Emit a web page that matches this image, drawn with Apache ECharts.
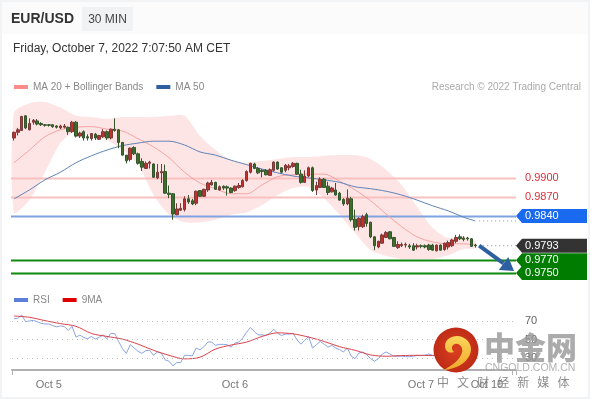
<!DOCTYPE html>
<html><head><meta charset="utf-8">
<style>html,body{margin:0;padding:0;background:#fff}#c{width:590px;height:400px}</style>
<script src="https://cdn.jsdelivr.net/npm/echarts@6/dist/echarts.min.js"></script>
</head><body><div id="c"></div>
<script>
const FONT = '"Liberation Sans", Arial, sans-serif';
const tickIndex = [9, 57, 105, 122];
const tickLabels = ['Oct 5', 'Oct 6', 'Oct 7', 'Oct 10'];
const slotCount = 130;
// [open, close, low, high], one per 30-minute candle
const candles = [
[0.9963,0.9972,0.9959,0.9973],[0.9972,0.9976,0.9967,0.9979],[0.9975,0.9997,0.9974,0.9998],[0.9998,0.9979,0.9977,0.9999],
[0.9976,0.9986,0.9975,0.9994],[0.9988,0.9991,0.9984,0.9993],[0.9990,0.9985,0.9983,0.9993],[0.9986,0.9984,0.9982,0.9988],
[0.9984,0.9983,0.9981,0.9985],[0.9984,0.9983,0.9981,0.9985],[0.9984,0.9981,0.9979,0.9985],[0.9982,0.9980,0.9978,0.9983],
[0.9979,0.9982,0.9977,0.9984],[0.9980,0.9982,0.9978,0.9985],[0.9980,0.9973,0.9968,0.9981],[0.9973,0.9988,0.9971,0.9990],
[0.9988,0.9966,0.9964,0.9990],[0.9966,0.9971,0.9963,0.9973],[0.9973,0.9963,0.9959,0.9975],[0.9965,0.9963,0.9959,0.9969],
[0.9962,0.9970,0.9959,0.9971],[0.9969,0.9963,0.9960,0.9971],[0.9961,0.9967,0.9960,0.9968],[0.9965,0.9973,0.9963,0.9977],
[0.9973,0.9963,0.9960,0.9975],[0.9963,0.9977,0.9961,0.9978],[0.9977,0.9975,0.9973,0.9994],[0.9976,0.9956,0.9947,0.9977],
[0.9956,0.9936,0.9935,0.9957],[0.9936,0.9927,0.9923,0.9936],[0.9929,0.9947,0.9926,0.9948],[0.9948,0.9938,0.9936,0.9950],
[0.9938,0.9923,0.9921,0.9940],[0.9926,0.9917,0.9911,0.9931],[0.9915,0.9923,0.9914,0.9926],[0.9923,0.9925,0.9915,0.9927],
[0.9922,0.9901,0.9900,0.9923],[0.9900,0.9909,0.9898,0.9922],[0.9908,0.9910,0.9892,0.9922],[0.9910,0.9876,0.9875,0.9921],
[0.9876,0.9874,0.9868,0.9888],[0.9875,0.9843,0.9834,0.9876],[0.9842,0.9851,0.9841,0.9860],[0.9849,0.9852,0.9848,0.9860],
[0.9850,0.9867,0.9847,0.9871],[0.9867,0.9862,0.9859,0.9873],[0.9864,0.9859,0.9857,0.9867],[0.9860,0.9879,0.9857,0.9880],
[0.9880,0.9871,0.9870,0.9881],[0.9871,0.9882,0.9870,0.9883],[0.9881,0.9892,0.9878,0.9894],[0.9889,0.9893,0.9888,0.9897],
[0.9893,0.9882,0.9881,0.9894],[0.9881,0.9886,0.9880,0.9888],[0.9887,0.9884,0.9881,0.9888],[0.9886,0.9884,0.9872,0.9888],
[0.9884,0.9877,0.9876,0.9885],[0.9880,0.9887,0.9878,0.9888],[0.9885,0.9888,0.9883,0.9892],[0.9886,0.9896,0.9885,0.9898],
[0.9896,0.9910,0.9894,0.9912],[0.9909,0.9923,0.9907,0.9924],[0.9922,0.9915,0.9914,0.9924],[0.9915,0.9908,0.9906,0.9917],
[0.9912,0.9910,0.9901,0.9914],[0.9912,0.9905,0.9904,0.9914],[0.9904,0.9913,0.9903,0.9915],[0.9912,0.9925,0.9910,0.9926],
[0.9925,0.9914,0.9913,0.9926],[0.9916,0.9909,0.9907,0.9917],[0.9912,0.9920,0.9909,0.9922],[0.9916,0.9919,0.9912,0.9922],
[0.9918,0.9923,0.9916,0.9925],[0.9923,0.9906,0.9905,0.9924],[0.9906,0.9893,0.9891,0.9913],[0.9893,0.9903,0.9892,0.9912],
[0.9903,0.9916,0.9901,0.9918],[0.9916,0.9880,0.9878,0.9918],[0.9881,0.9888,0.9873,0.9894],[0.9885,0.9898,0.9884,0.9901],
[0.9898,0.9885,0.9884,0.9900],[0.9887,0.9877,0.9873,0.9894],[0.9878,0.9884,0.9877,0.9886],[0.9881,0.9873,0.9872,0.9892],
[0.9876,0.9865,0.9864,0.9878],[0.9866,0.9859,0.9856,0.9868],[0.9859,0.9868,0.9857,0.9882],[0.9867,0.9834,0.9831,0.9870],
[0.9835,0.9822,0.9817,0.9850],[0.9823,0.9836,0.9817,0.9838],[0.9823,0.9839,0.9821,0.9842],[0.9842,0.9828,0.9823,0.9845],
[0.9830,0.9807,0.9805,0.9831],[0.9807,0.9793,0.9786,0.9808],[0.9791,0.9800,0.9789,0.9801],[0.9797,0.9810,0.9796,0.9812],
[0.9806,0.9814,0.9805,0.9816],[0.9815,0.9804,0.9803,0.9816],[0.9806,0.9792,0.9791,0.9807],[0.9790,0.9795,0.9788,0.9800],
[0.9793,0.9795,0.9791,0.9798],[0.9794,0.9795,0.9790,0.9798],[0.9793,0.9791,0.9788,0.9796],[0.9793,0.9786,0.9785,0.9797],
[0.9791,0.9793,0.9787,0.9796],[0.9793,0.9792,0.9789,0.9795],[0.9793,0.9791,0.9789,0.9795],[0.9794,0.9787,0.9785,0.9796],
[0.9794,0.9786,0.9785,0.9796],[0.9785,0.9794,0.9784,0.9795],[0.9794,0.9786,0.9785,0.9795],[0.9787,0.9797,0.9785,0.9798],
[0.9791,0.9798,0.9787,0.9801],[0.9793,0.9802,0.9791,0.9804],[0.9800,0.9806,0.9797,0.9810],[0.9807,0.9804,0.9802,0.9811],
[0.9805,0.9803,0.9800,0.9808],[0.9805,0.9804,0.9801,0.9807],[0.9804,0.9792,0.9791,0.9805],[0.9794,0.9793,0.9790,0.9796]
];
// Overlay readings, taken at these candle positions
const overlayIndex = [0,4,8,12,16,20,24,28,32,36,40,44,48,52,56,60,64,68,72,76,80,84,88,92,96,100,104,108,112,116,119];
const bandUpper = [1.0003,1.0018,1.0020,1.0011,0.9998,0.9996,0.9993,0.9996,0.9996,0.9996,0.9998,0.9998,0.9966,0.9944,0.9928,0.9924,0.9927,0.9930,0.9933,0.9933,0.9935,0.9936,0.9936,0.9930,0.9913,0.9889,0.9854,0.9821,0.9805,0.9808,0.9800];
const bandLower = [0.9845,0.9865,0.9909,0.9955,0.9974,0.9966,0.9960,0.9944,0.9921,0.9873,0.9842,0.9830,0.9830,0.9834,0.9842,0.9846,0.9857,0.9873,0.9884,0.9886,0.9868,0.9842,0.9813,0.9786,0.9777,0.9772,0.9772,0.9772,0.9778,0.9788,0.9789];
const ma20 = [0.9924,0.9944,0.9965,0.9976,0.9980,0.9981,0.9977,0.9974,0.9962,0.9949,0.9932,0.9909,0.9892,0.9883,0.9875,0.9875,0.9889,0.9902,0.9905,0.9906,0.9906,0.9895,0.9881,0.9864,0.9843,0.9823,0.9807,0.9799,0.9796,0.9796,0.9794];
const ma50 = [0.9867,0.9881,0.9897,0.9909,0.9924,0.9935,0.9944,0.9951,0.9955,0.9958,0.9958,0.9952,0.9941,0.9936,0.9928,0.9921,0.9914,0.9908,0.9903,0.9900,0.9897,0.9893,0.9886,0.9883,0.9879,0.9873,0.9865,0.9856,0.9848,0.9838,0.9832];
const rsiMa9 = [75.4,74,70.4,67.2,64.3,56.5,53.3,50.4,45,38.3,32.9,29,30.8,39.7,44,47.2,53.3,57.2,56.1,52.6,47.9,42.2,38.3,33.3,31.9,32.6,32.9,32.6,32.6,33,34];
const rsi = [72.5,72.9,76.5,69.3,70,70.7,69.3,67.5,66.8,66.8,65,63.6,64.7,64,59.7,64.3,52.6,54.7,52.2,50.8,53.3,50.4,52.2,55,50.8,56.5,56.5,47.9,40,35,44.3,40.8,37.2,35,37.9,38.3,32.9,36.5,35.4,27.9,26.5,21.5,25,25,32.9,32.9,32.2,40.8,38.6,42.2,47.2,47.2,43.6,44.7,44.7,44.3,41.8,46.1,47.2,51.5,57.9,62.9,58.6,55,55,54.3,56.8,61.1,56.8,54.3,55.8,55.8,56.8,49.7,45,49,53.3,40.8,44.3,47.9,45,41.8,43.6,40.8,39,36.5,40.8,31.9,29.3,35.4,36.5,33.6,29.3,26.5,29.3,34.3,36.5,34.3,31.9,31.9,31.9,31.5,31.5,31.9,32.6,32.6,32.9,34.3,32.9,32.9,33,34,36,38,42,40,40,39,34,34];
const rsiLevels = [70, 50, 30];
const levelValues = [0.9900, 0.9870, 0.9840, 0.9793, 0.9770, 0.9750];
const levelText = ['0.9900', '0.9870', '0.9840', '0.9793', '0.9770', '0.9750'];
const lastClose = 0.9793;
const lastMa50 = 0.9832;
const arrowPath = [[119.7, 0.9793], [129, 0.9753]];

const levelStyle = [
  {line:'#f9c0c0', text:'#d9303a', tag:null},
  {line:'#f9c0c0', text:'#d9303a', tag:null},
  {line:'#7fa3df', text:'#fff', tag:'#1a6af0'},
  {line:null, text:'#fff', tag:'#333333'},
  {line:'#0f8a0f', text:'#fff', tag:'#007d00'},
  {line:'#0f8a0f', text:'#fff', tag:'#007d00'}
];
const categories = Array.from({length: slotCount}, (_, i) => {
  const k = tickIndex.indexOf(i); return k >= 0 ? tickLabels[k] : '';
});
const pairs = (vals) => vals.map((v, k) => [overlayIndex[k], v]);

const chart = echarts.init(document.getElementById('c'), null, {renderer:'canvas'});
chart.setOption({
  animation:false,
  backgroundColor:'#fff',
  textStyle:{fontFamily:FONT},
  title:[
    {text:'EUR/USD', left:6, top:7, textStyle:{fontSize:14, fontWeight:'bold', color:'#333', fontFamily:FONT}},
    {text:'Friday, October 7, 2022 7:07:50 AM CET', left:8, top:38, textStyle:{fontSize:12, fontWeight:'normal', color:'#333', fontFamily:FONT}},
    {text:'Research © 2022 Trading Central', right:4, top:77, textStyle:{fontSize:10, fontWeight:'normal', color:'#aaa', fontFamily:FONT}}
  ],
  legend:[
    {left:9, top:77, itemWidth:14, itemHeight:4, itemGap:13, icon:'rect', data:['MA 20 + Bollinger Bands','MA 50'],
     textStyle:{fontSize:10, color:'#888', fontFamily:FONT}, selectedMode:false},
    {left:9, top:290, itemWidth:14, itemHeight:4, itemGap:13, icon:'rect', data:['RSI','9MA'],
     textStyle:{fontSize:10, color:'#888', fontFamily:FONT}, selectedMode:false}
  ],
  grid:[
    {left:12, width:504, top:100, height:185},
    {left:12, width:504, top:305, height:65}
  ],
  xAxis:[
    {type:'category', gridIndex:0, data:categories, show:false},
    {type:'category', gridIndex:1, data:categories,
     axisLine:{show:true, lineStyle:{color:'#b0b0b0', width:2}},
     axisTick:{show:true, length:5, lineStyle:{color:'#b0b0b0', width:1}, interval:(i)=> i===0 || i===slotCount-1},
     axisLabel:{interval:0, hideOverlap:false, color:'#777', fontSize:11, margin:9, fontFamily:FONT},
     splitLine:{show:false}}
  ],
  yAxis:[
    {type:'value', gridIndex:0, min:0.9731, max:1.0023, show:false},
    {type:'value', gridIndex:1, min:17, max:87.3, position:'right',
     axisLine:{show:false}, axisTick:{show:false}, splitLine:{show:false},
     axisLabel:{show:true, customValues:rsiLevels, color:'#666', fontSize:11, margin:9, fontFamily:FONT}}
  ],
  series:[
    {type:'custom', name:'band', z:1, xAxisIndex:0, yAxisIndex:0, silent:true,
     data:overlayIndex.map((x,k)=>[x,bandUpper[k],bandLower[k]]), encode:{x:0,y:[1,2]},
     renderItem:(params, api)=>{
       if (params.dataIndex !== 0) return;
       const top = overlayIndex.map((x,k)=>api.coord([x,bandUpper[k]]));
       const bot = overlayIndex.map((x,k)=>api.coord([x,bandLower[k]])).reverse();
       return {type:'polygon', shape:{points:top.concat(bot), smooth:0.25}, style:{fill:'#fee5e5'}};
     }},
    {type:'custom', name:'levels', z:2, xAxisIndex:0, yAxisIndex:0, silent:true,
     data:levelValues.map(v=>[v]), encode:{y:0},
     renderItem:(params, api)=>{
       const s = levelStyle[params.dataIndex];
       const val = levelValues[params.dataIndex];
       const y = Math.round(api.coord([0,val])[1]);
       const L = params.coordSys.x - 1, R = params.coordSys.x + params.coordSys.width;
       const kids = [];
       if (s.line) kids.push({type:'line', shape:{x1:L,y1:y+0.5,x2:R,y2:y+0.5}, style:{stroke:s.line, lineWidth:2}});
       return {type:'group', children:kids};
     }},
    {type:'line', name:'MA 20 + Bollinger Bands', z:3, xAxisIndex:0, yAxisIndex:0, data:pairs(ma20), smooth:0.3, showSymbol:false, silent:true,
     itemStyle:{color:'#ff8a8a'}, lineStyle:{color:'#f5a3a3', width:1}},
    {type:'line', name:'MA 50', z:3, xAxisIndex:0, yAxisIndex:0, data:pairs(ma50), smooth:0.3, showSymbol:false, silent:true,
     itemStyle:{color:'#2f5f9e'}, lineStyle:{color:'#5f83b8', width:1}},
    {type:'candlestick', name:'EUR/USD', z:4, xAxisIndex:0, yAxisIndex:0, data:candles, barWidth:3, silent:true,
     itemStyle:{color:'#c0302f', color0:'#3c6e2a', borderColor:'#7a3a38', borderColor0:'#33562c', borderWidth:1}},
    {type:'custom', name:'tags', z:6, xAxisIndex:0, yAxisIndex:0, silent:true,
     data:levelValues.map(v=>[v]), encode:{y:0},
     renderItem:(params, api)=>{
       const s = levelStyle[params.dataIndex];
       const val = levelValues[params.dataIndex];
       const y = api.coord([0,val])[1];
       const R = params.coordSys.x + params.coordSys.width;
       const kids = [];
       const h = 7;
       if (s.tag) kids.push({type:'polygon', shape:{points:[[R,y],[R+6,y-h],[R+71,y-h],[R+71,y+h],[R+6,y+h]]}, style:{fill:s.tag}});
       kids.push({type:'text', style:{x:R+9, y:y, text:levelText[params.dataIndex], fill:s.text, fontSize:11, fontFamily:FONT, textAlign:'left', textVerticalAlign:'middle'}});
       return {type:'group', children:kids};
     }},
    {type:'custom', name:'guides', z:5, xAxisIndex:0, yAxisIndex:0, silent:true,
     data:[[lastClose],[lastMa50]], encode:{y:0},
     renderItem:(params, api)=>{
       const val = params.dataIndex===0 ? lastClose : lastMa50;
       const p = api.coord([120.3,val]);
       const R = params.coordSys.x + params.coordSys.width;
       return {type:'line', shape:{x1:p[0],y1:p[1],x2:R,y2:p[1]}, style:{stroke:'#999', lineWidth:1, lineDash:[1,3]}};
     }},
    {type:'custom', name:'arrow', z:7, xAxisIndex:0, yAxisIndex:0, silent:true,
     data:[arrowPath[0]], encode:{x:0,y:1},
     renderItem:(params, api)=>{
       const a = api.coord(arrowPath[0]), b = api.coord(arrowPath[1]);
       const ang = Math.atan2(b[1]-a[1], b[0]-a[0]), c = Math.cos(ang), s = Math.sin(ang);
       const base = [b[0]-13*c, b[1]-13*s];
       return {type:'group', children:[
         {type:'line', shape:{x1:a[0],y1:a[1],x2:base[0],y2:base[1]}, style:{stroke:'#2e609f', lineWidth:4}},
         {type:'polygon', shape:{points:[b,[base[0]-8*s,base[1]+8*c],[base[0]+8*s,base[1]-8*c]]}, style:{fill:'#2e609f'}}
       ]};
     }},
    {type:'line', name:'RSI', z:3, xAxisIndex:1, yAxisIndex:1, data:rsi, showSymbol:false, silent:true,
     itemStyle:{color:'#5b7fd8'}, lineStyle:{color:'#8aa5e3', width:1},
     markLine:{silent:true, symbol:'none', label:{show:false}, lineStyle:{color:'#bdbdbd', type:[1,4], width:1},
       data:rsiLevels.map(v=>({yAxis:v}))}},
    {type:'line', name:'9MA', z:4, xAxisIndex:1, yAxisIndex:1, data:pairs(rsiMa9), smooth:0.3, showSymbol:false, silent:true,
     itemStyle:{color:'#e00000'}, lineStyle:{color:'#d9434b', width:1}},
    {type:'custom', name:'logo', z:101, zlevel:1, coordinateSystem:'none', silent:true, data:[[0]], clip:false,
     renderItem:()=>({type:'path', shape:{pathData:'M446 346 C446 338 456 334 463 337 C471 340 474 349 470 356 C466 364 456 369 445 370 C453 365 461 360 463 352 C464 347 460 343 456 344 C452 345 452 350 455 352 C450 354 446 351 446 346 Z', x:444, y:336, width:27, height:34, layout:'cover'},
       style:{fill:new echarts.graphic.LinearGradient(0,0,0,1,[{offset:0,color:'#fbd65a'},{offset:1,color:'#f0a92c'}])}})}
  ],
  graphic:[
    {type:'rect', silent:true, z:-1, shape:{x:1,y:1,width:588,height:397}, style:{fill:'none', stroke:'#f1f3f5', lineWidth:2}},
    {type:'rect', silent:true, z:-1, shape:{x:2,y:2,width:586,height:32}, style:{fill:'#fbfbfb'}},
    {type:'rect', silent:true, z:1, shape:{x:82,y:7,width:51,height:24}, style:{fill:'#f0f2f4'}},
    {type:'text', silent:true, z:2, style:{x:107.5,y:20,text:'30 MIN',fill:'#444',fontSize:12,fontFamily:FONT,textAlign:'center',textVerticalAlign:'middle'}},
    {type:'circle', silent:true, z:100, shape:{cx:456,cy:350,r:22.5},
     style:{fill:new echarts.graphic.RadialGradient(0.5,0.5,0.5,[{offset:0,color:'#d9401f'},{offset:1,color:'#bf2b17'}])}},
    {type:'text', silent:true, z:100, style:{x:484,y:347,text:'中金网',fill:'rgba(150,150,150,0.8)',fontSize:31,fontWeight:900,fontFamily:'"Noto Sans CJK SC"',textVerticalAlign:'middle'}},
    {type:'text', silent:true, z:100, style:{x:485,y:368,text:'CNGOLD.COM.CN',fill:'rgba(165,165,165,0.85)',fontSize:10.5,fontFamily:FONT,textVerticalAlign:'middle'}},
    {type:'text', silent:true, z:100, style:{x:437,y:382,text:'中   文   财   经   新   媒   体',fill:'rgba(120,120,120,0.85)',fontSize:12,fontFamily:'"Noto Sans CJK SC"',textVerticalAlign:'middle'}}
  ]
});
</script></body></html>
